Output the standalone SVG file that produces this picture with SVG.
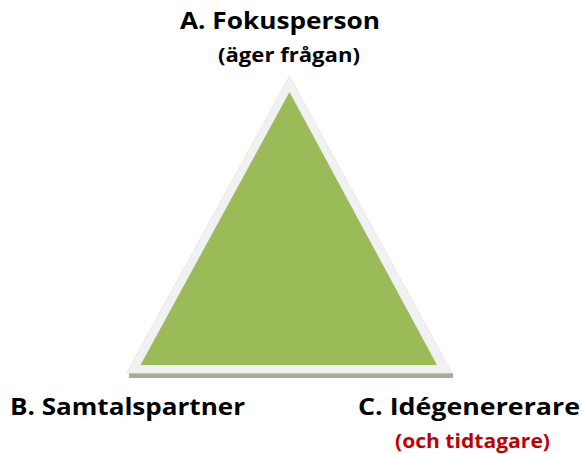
<svg xmlns="http://www.w3.org/2000/svg" width="582" height="454" viewBox="0 0 582 454">
<style>
.t{font-family:"Open Sans","Liberation Sans",sans-serif;font-weight:bold;fill:#000}
.big{font-size:23px}
.sm{font-size:19px}
.red{fill:#c00000;font-size:20px}
</style>
<rect width="582" height="454" fill="#fff"/>
<g id="triangle">
<rect x="129" y="373" width="324" height="5" fill="#a5ae94"/>
<polygon points="289.5,76 452,373 126.5,373" fill="#f1f1f1" stroke="#e4e4e4" stroke-width="0.8"/>
<polygon points="289.5,92 437,365 140.5,365" fill="#9bbb59"/>
</g>
<g id="nodeA">
<text class="t big" x="180" y="28.5" textLength="200" lengthAdjust="spacingAndGlyphs">A. Fokusperson</text>
<text class="t sm" x="218" y="62" textLength="142" lengthAdjust="spacingAndGlyphs">(äger frågan)</text>
</g>
<g id="nodeB">
<text class="t big" x="10" y="415" textLength="235" lengthAdjust="spacingAndGlyphs">B. Samtalspartner</text>
</g>
<g id="nodeC">
<text class="t big" x="358" y="415" textLength="222" lengthAdjust="spacingAndGlyphs">C. Idégenererare</text>
<text class="t red" x="395" y="448" textLength="155" lengthAdjust="spacingAndGlyphs">(och tidtagare)</text>
</g>
<g id="connectors"/>
</svg>
